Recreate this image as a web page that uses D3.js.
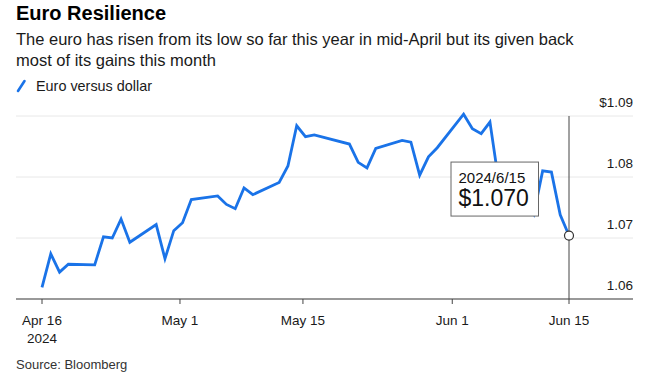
<!DOCTYPE html>
<html>
<head>
<meta charset="utf-8">
<script src="https://cdn.jsdelivr.net/npm/d3@7"></script>
<style>
  html, body { margin: 0; padding: 0; background: #fff; }
  svg { display: block; font-family: "Liberation Sans", Arial, Helvetica, sans-serif; }
</style>
</head>
<body>
<svg id="chart" width="661" height="382"></svg>
<script>
// ---- data ----
const dates = [
  "2024-04-16","2024-04-17","2024-04-18","2024-04-19",
  "2024-04-22","2024-04-23","2024-04-24","2024-04-25","2024-04-26",
  "2024-04-29","2024-04-30","2024-05-01","2024-05-02","2024-05-03",
  "2024-05-06","2024-05-07","2024-05-08","2024-05-09","2024-05-10",
  "2024-05-13","2024-05-14","2024-05-15","2024-05-16","2024-05-17",
  "2024-05-21","2024-05-22","2024-05-23","2024-05-24",
  "2024-05-27","2024-05-28","2024-05-29","2024-05-30","2024-05-31",
  "2024-06-03","2024-06-04","2024-06-05","2024-06-06","2024-06-07",
  "2024-06-10","2024-06-11","2024-06-12","2024-06-13","2024-06-14","2024-06-15"
];
const eurusd = [
  1.0619, 1.0674, 1.0644, 1.0657,
  1.0656, 1.0702, 1.0700, 1.0731, 1.0693,
  1.0722, 1.0666, 1.0712, 1.0725, 1.0763,
  1.0769, 1.0755, 1.0748, 1.0782, 1.0771,
  1.0791, 1.0818, 1.0884, 1.0866, 1.0869,
  1.0854, 1.0824, 1.0815, 1.0847,
  1.0860, 1.0857, 1.0803, 1.0833, 1.0848,
  1.0903, 1.0879, 1.0871, 1.0890, 1.0792,
  1.0770, 1.0740, 1.0810, 1.0808, 1.0738, 1.0704
];
const yTicks = [1.06, 1.07, 1.08, 1.09];
const xTickDates = ["2024-04-16 00", "2024-05-01 17", "2024-05-15 17", "2024-06-01 17", "2024-06-15 00"];
const xTickLabels = ["Apr 16", "May 1", "May 15", "Jun 1", "Jun 15"];

const title = "Euro Resilience";
const subtitle = ["The euro has risen from its low so far this year in mid-April but its given back",
                  "most of its gains this month"];
const legendLabel = "Euro versus dollar";
const source = "Source: Bloomberg";

// ---- setup ----
const parse = d3.timeParse("%Y-%m-%d");
const parseTick = d3.timeParse("%Y-%m-%d %H");
const data = dates.map((d, i) => ({ date: parse(d), value: eurusd[i] }));

const svg = d3.select("#chart");
const plotLeft = 16, plotRight = 633;
const lineColor = "#1a73e8";
const textColor = "#1a1a1a";

const x = d3.scaleTime().domain(d3.extent(data, d => d.date)).range([42, 569]);
const y = d3.scaleLinear().domain([1.06, 1.09]).range([299, 116]);

// ---- header ----
svg.append("text").attr("x", 16).attr("y", 20)
  .attr("font-size", 20).attr("font-weight", "bold").attr("fill", "#000")
  .text(title);
subtitle.forEach((s, i) => {
  svg.append("text").attr("x", 16).attr("y", 45 + i * 20.5)
    .attr("font-size", 16.5).attr("fill", textColor).text(s);
});
// legend
svg.append("line").attr("x1", 18).attr("y1", 91).attr("x2", 24.5).attr("y2", 81)
  .attr("stroke", lineColor).attr("stroke-width", 2.6).attr("stroke-linecap", "round");
svg.append("text").attr("x", 36).attr("y", 90.5)
  .attr("font-size", 14.4).attr("fill", textColor).text(legendLabel);

// ---- grid ----
const grid = svg.append("g");
grid.selectAll("line").data(yTicks.filter(v => v !== 1.06)).join("line")
  .attr("x1", plotLeft).attr("x2", plotRight)
  .attr("y1", d => y(d)).attr("y2", d => y(d))
  .attr("stroke", "#e8e8e8").attr("stroke-width", 1);

// y labels
svg.append("g").selectAll("text").data(yTicks).join("text")
  .attr("x", plotRight).attr("y", d => y(d) - 9)
  .attr("text-anchor", "end").attr("font-size", 13.5).attr("fill", textColor)
  .text((d, i) => (i === yTicks.length - 1 ? "$" : "") + d3.format(".2f")(d));

// ---- line ----
const line = d3.line().x(d => x(d.date)).y(d => y(d.value));
svg.append("path").datum(data)
  .attr("fill", "none").attr("stroke", lineColor).attr("stroke-width", 2.8)
  .attr("stroke-linejoin", "miter").attr("d", line);

// ---- x axis ----
svg.append("line").attr("x1", plotLeft).attr("x2", plotRight)
  .attr("y1", y(1.06)).attr("y2", y(1.06))
  .attr("stroke", "#777").attr("stroke-width", 1.5);
const xg = svg.append("g");
const tickData = xTickDates.map((d, i) => ({ date: parseTick(d), label: xTickLabels[i] }));
xg.selectAll("line").data(tickData).join("line")
  .attr("x1", d => x(d.date)).attr("x2", d => x(d.date))
  .attr("y1", y(1.06)).attr("y2", y(1.06) + 5)
  .attr("stroke", "#444").attr("stroke-width", 1);
xg.selectAll("text.lab").data(tickData).join("text").attr("class", "lab")
  .attr("x", d => x(d.date)).attr("y", 325)
  .attr("text-anchor", "middle").attr("font-size", 13.5).attr("fill", textColor)
  .text(d => d.label);
svg.append("text").attr("x", x(tickData[0].date)).attr("y", 343)
  .attr("text-anchor", "middle").attr("font-size", 13.5).attr("fill", textColor)
  .text("2024");

// source
svg.append("text").attr("x", 16).attr("y", 369)
  .attr("font-size", 13).attr("fill", "#333").text(source);

// ---- hover marker / tooltip on last point ----
const last = data[data.length - 1];
const px = x(last.date), py = y(last.value);
svg.append("line").attr("x1", px).attr("x2", px).attr("y1", y(1.09)).attr("y2", y(1.06))
  .attr("stroke", "#444").attr("stroke-width", 1);
svg.append("circle").attr("cx", px).attr("cy", py).attr("r", 4.5)
  .attr("fill", "#fff").attr("stroke", "#333").attr("stroke-width", 1.2);
const tipW = 87.5, tipH = 54;
const tx = px - 31 - tipW, ty = py - 74;
const tip = svg.append("g").attr("transform", `translate(${tx},${ty})`);
tip.append("rect").attr("x", 0.5).attr("y", 0.5).attr("width", tipW).attr("height", tipH)
  .attr("fill", "#fff").attr("stroke", "#666").attr("stroke-width", 1);
tip.append("text").attr("x", 8).attr("y", 21).attr("font-size", 15).attr("fill", "#111")
  .text(d3.timeFormat("%Y/%-m/%-d")(last.date));
tip.append("text").attr("x", 8).attr("y", 44).attr("font-size", 23).attr("fill", "#111")
  .text("$" + d3.format(".3f")(last.value));
</script>
</body>
</html>
